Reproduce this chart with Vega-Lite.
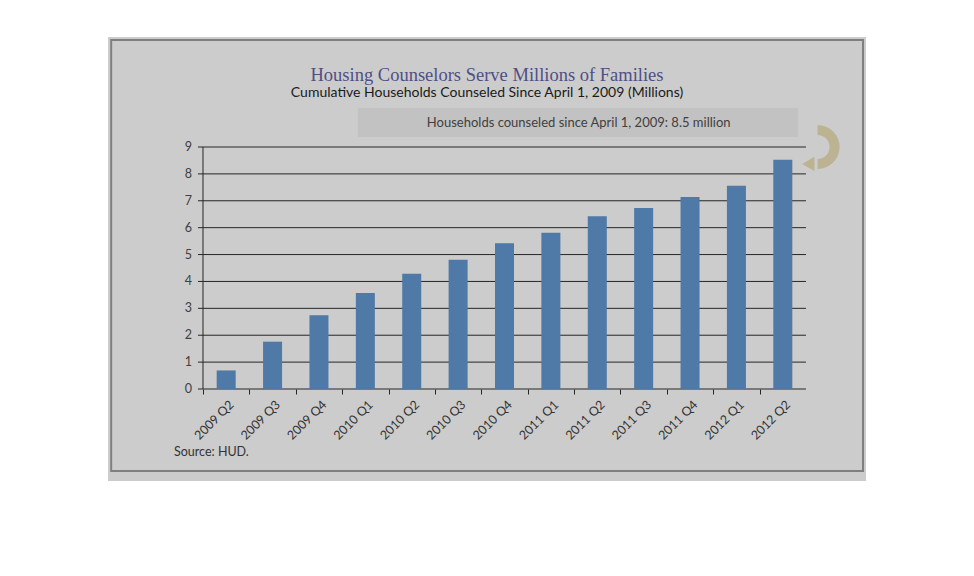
{
  "$schema": "https://vega.github.io/schema/vega-lite/v6.json",
  "autosize": {"type": "none"},
  "padding": {"left": 108, "top": 37, "right": 108, "bottom": 95},
  "width": 758,
  "height": 444,
  "background": "white",
  "config": {"view": {"fill": "#cccccc", "stroke": null}},
  "title": {
    "text": "Housing Counselors Serve Millions of Families",
    "subtitle": "Cumulative Households Counseled Since April 1, 2009 (Millions)",
    "anchor": "middle",
    "frame": "group",
    "font": "Liberation Serif",
    "fontSize": 18.5,
    "fontWeight": "normal",
    "color": "#4f4f86",
    "subtitleFont": "Lato",
    "subtitleFontSize": 14,
    "subtitleFontWeight": "normal",
    "subtitleColor": "#1a1a1a",
    "subtitlePadding": 2,
    "offset": -63
  },
  "datasets": {
    "bars": [
      {"q": "2009 Q2", "v": 0.69},
      {"q": "2009 Q3", "v": 1.76},
      {"q": "2009 Q4", "v": 2.74},
      {"q": "2010 Q1", "v": 3.57},
      {"q": "2010 Q2", "v": 4.29},
      {"q": "2010 Q3", "v": 4.81},
      {"q": "2010 Q4", "v": 5.42},
      {"q": "2011 Q1", "v": 5.81},
      {"q": "2011 Q2", "v": 6.42},
      {"q": "2011 Q3", "v": 6.73},
      {"q": "2011 Q4", "v": 7.14},
      {"q": "2012 Q1", "v": 7.56},
      {"q": "2012 Q2", "v": 8.53}
    ],
    "grid": [{"g": 0}, {"g": 1}, {"g": 2}, {"g": 3}, {"g": 4}, {"g": 5}, {"g": 6}, {"g": 7}, {"g": 8}, {"g": 9}],
    "one": [{}]
  },
  "layer": [
    {
      "data": {"name": "grid"},
      "mark": {"type": "rule", "color": "#262626", "strokeWidth": 1},
      "encoding": {
        "x": {"datum": -0.108, "type": "quantitative", "scale": {"domain": [-2.048, 14.294], "nice": false, "zero": false}, "axis": null},
        "x2": {"datum": 13},
        "y": {"field": "g", "type": "quantitative", "scale": {"domain": [-3.4215, 13.091], "nice": false, "zero": false}, "axis": null}
      }
    },
    {
      "data": {"name": "grid"},
      "mark": {"type": "text", "font": "Lato", "fontSize": 12.5, "fill": "#404040", "align": "right", "baseline": "middle"},
      "encoding": {
        "x": {"datum": -0.237, "type": "quantitative", "scale": {"domain": [-2.048, 14.294], "nice": false, "zero": false}, "axis": null},
        "y": {"field": "g", "type": "quantitative", "axis": null},
        "text": {"field": "g", "type": "quantitative"}
      }
    },
    {
      "data": {"name": "one"},
      "mark": {"type": "rect", "filled": false, "stroke": "#7f7f7f", "strokeWidth": 2},
      "encoding": {
        "x": {"datum": -1.98, "type": "quantitative", "scale": {"domain": [-2.048, 14.294], "nice": false, "zero": false}, "axis": null},
        "x2": {"datum": 14.23},
        "y": {"datum": 12.98, "type": "quantitative", "axis": null},
        "y2": {"datum": -3.05}
      }
    },
    {
      "data": {"name": "one"},
      "mark": {"type": "rule", "color": "#262626", "strokeWidth": 1},
      "encoding": {
        "x": {"datum": 0, "type": "quantitative", "scale": {"domain": [-2.048, 14.294], "nice": false, "zero": false}, "axis": null},
        "y": {"datum": 0, "type": "quantitative", "axis": null},
        "y2": {"datum": 9}
      }
    },
    {
      "data": {"name": "one"},
      "mark": {"type": "rect", "fill": "#bfbfbf", "opacity": 0.85},
      "encoding": {
        "x": {"datum": 3.34, "type": "quantitative", "scale": {"domain": [-2.048, 14.294], "nice": false, "zero": false}, "axis": null},
        "x2": {"datum": 12.83},
        "y": {"datum": 10.45, "type": "quantitative", "axis": null},
        "y2": {"datum": 9.37}
      }
    },
    {
      "data": {"name": "one"},
      "mark": {"type": "arc", "radius": 22, "radius2": 12, "theta": 0, "theta2": 3.1416, "fill": "#b3a878", "opacity": 0.7},
      "encoding": {
        "x": {"datum": 13.25, "type": "quantitative", "scale": {"domain": [-2.048, 14.294], "nice": false, "zero": false}, "axis": null},
        "y": {"datum": 9.0, "type": "quantitative", "axis": null}
      }
    },
    {
      "data": {"name": "one"},
      "mark": {"type": "point", "shape": "triangle-left", "size": 200, "filled": true, "fill": "#b3a878", "opacity": 0.7},
      "encoding": {
        "x": {"datum": 13.05, "type": "quantitative", "scale": {"domain": [-2.048, 14.294], "nice": false, "zero": false}, "axis": null},
        "y": {"datum": 8.37, "type": "quantitative", "axis": null}
      }
    },
    {
      "data": {"name": "one"},
      "mark": {"type": "text", "text": "Households counseled  since  April 1, 2009: 8.5 million", "font": "Lato", "fontSize": 13, "fill": "#404040", "align": "center", "baseline": "middle"},
      "encoding": {
        "x": {"datum": 8.1, "type": "quantitative", "scale": {"domain": [-2.048, 14.294], "nice": false, "zero": false}, "axis": null},
        "y": {"datum": 9.89, "type": "quantitative", "axis": null}
      }
    },
    {
      "data": {"name": "one"},
      "mark": {"type": "text", "text": "Source:  HUD.", "font": "Lato", "fontSize": 12.5, "fill": "#333333", "align": "left", "baseline": "middle"},
      "encoding": {
        "x": {"datum": -0.625, "type": "quantitative", "scale": {"domain": [-2.048, 14.294], "nice": false, "zero": false}, "axis": null},
        "y": {"datum": -2.34, "type": "quantitative", "axis": null}
      }
    },
    {
      "data": {"name": "bars"},
      "mark": {"type": "bar", "color": "#4f79a6"},
      "encoding": {
        "x": {
          "field": "q",
          "type": "nominal",
          "sort": null,
          "scale": {"type": "band", "range": [95, 698], "paddingInner": 0.5903, "paddingOuter": 0.295, "align": 0.5},
          "axis": {
            "title": null,
            "orient": "bottom",
            "offset": -92,
            "domain": false,
            "grid": false,
            "ticks": true,
            "tickSize": 5,
            "tickColor": "#262626",
            "tickOffset": -23.19,
            "labelOffset": 24,
            "labelAngle": -45,
            "labelAlign": "right",
            "labelBaseline": "top",
            "labelPadding": 4,
            "labelFont": "Lato",
            "labelFontSize": 12.5,
            "labelColor": "#333333",
            "zindex": 1
          }
        },
        "y": {
          "field": "v",
          "type": "quantitative",
          "axis": null
        },
        "y2": {"datum": 0}
      }
    }
  ],
  "resolve": {"scale": {"x": "independent"}, "axis": {"x": "independent"}}
}
